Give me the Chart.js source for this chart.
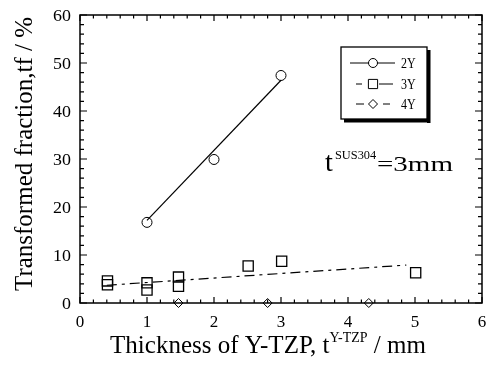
<!DOCTYPE html>
<html>
<head>
<meta charset="utf-8">
<script src="https://cdn.jsdelivr.net/npm/chart.js@4.4.0/dist/chart.umd.min.js"></script>
<style>
html, body { margin: 0; padding: 0; background: #fff; }
canvas { display: block; }
</style>
</head>
<body>
<canvas id="tfChart" width="486" height="367"></canvas>
<script>
const ctx = document.getElementById('tfChart').getContext('2d');

// tick labels
const xTicks = [0, 1, 2, 3, 4, 5, 6];
const yTicks = [0, 10, 20, 30, 40, 50, 60];

// 2Y
const thick2Y = [1, 2, 3];
const tf2Y = [16.8, 29.9, 47.4];
const fitX2Y = [1, 3];
const fitY2Y = [17.2, 46.4];

// 3Y
const thick3Y = [0.41, 0.41, 1, 1, 1.47, 1.47, 2.51, 3.01, 5.01];
const tf3Y = [4.6, 3.8, 4.2, 2.7, 5.4, 3.5, 7.7, 8.7, 6.3];
const fitX3Y = [0.4, 4.87];
const fitY3Y = [3.7, 7.9];

// 4Y
const thick4Y = [1.47, 2.8, 4.31];
const tf4Y = [0, 0, 0];

const legendNames = ['2Y', '3Y', '4Y'];

const toPts = (xs, ys) => xs.map((x, i) => ({ x: x, y: ys[i] }));
const SERIF = '"Liberation Serif", "Times New Roman", serif';

function drawText(c, str, x, y, size, sx, align) {
    c.save();
    c.font = size + 'px ' + SERIF;
    const w = c.measureText(str).width * sx;
    let left = x;
    if (align === 'center') left = x - w / 2;
    if (align === 'right') left = x - w;
    c.translate(left, y);
    c.scale(sx, 1);
    c.textAlign = 'left';
    c.textBaseline = 'alphabetic';
    c.fillText(str, 0, 0);
    c.restore();
    return w;
}

// hidden scales should take no room at all
function zeroFit(scale) {
    if (scale.isHorizontal()) scale.height = 0; else scale.width = 0;
    scale.paddingLeft = scale.paddingRight = scale.paddingTop = scale.paddingBottom = 0;
}

const framePlugin = {
    id: 'frame',
    afterDraw(chart) {
        const c = chart.ctx;
        const a = chart.chartArea;
        const xs = chart.scales.x;
        const ys = chart.scales.y;
        c.save();
        c.strokeStyle = '#000';
        c.fillStyle = '#000';
        c.lineWidth = 1.5;
        c.strokeRect(a.left, a.top, a.right - a.left, a.bottom - a.top);

        // ticks, inward on all four sides
        c.lineWidth = 1.2;
        c.beginPath();
        for (let v = xs.min; v <= xs.max + 1e-9; v += 0.2) {
            const px = xs.getPixelForValue(v);
            const major = Math.abs(v - Math.round(v)) < 1e-6;
            const len = major ? 6 : 3.5;
            c.moveTo(px, a.bottom); c.lineTo(px, a.bottom - len);
            c.moveTo(px, a.top); c.lineTo(px, a.top + len);
        }
        for (let v = ys.min; v <= ys.max + 1e-9; v += 2) {
            const py = ys.getPixelForValue(v);
            const major = Math.abs(v / 10 - Math.round(v / 10)) < 1e-6;
            const len = major ? 7 : 4;
            c.moveTo(a.left, py); c.lineTo(a.left + len, py);
            c.moveTo(a.right, py); c.lineTo(a.right - len, py);
        }
        c.stroke();

        // tick labels
        xTicks.forEach(v => {
            drawText(c, String(v), xs.getPixelForValue(v), 327, 17, 1.0, 'center');
        });
        yTicks.forEach(v => {
            drawText(c, String(v), 71, ys.getPixelForValue(v) + 5.5, 16, 1.12, 'right');
        });

        // x axis title with superscript
        const parts = [
            { t: 'Thickness of Y-TZP, t', s: 25, dy: 0 },
            { t: 'Y-TZP', s: 14, dy: -11 },
            { t: ' / mm', s: 25, dy: 0 }
        ];
        let total = 0;
        parts.forEach(p => { c.font = p.s + 'px ' + SERIF; p.w = c.measureText(p.t).width; total += p.w; });
        let x0 = 268 - total / 2;
        parts.forEach(p => { drawText(c, p.t, x0, 353 + p.dy, p.s, 1, 'left'); x0 += p.w; });

        // y axis title
        c.save();
        c.translate(32, 154);
        c.rotate(-Math.PI / 2);
        c.font = '25px ' + SERIF;
        c.textAlign = 'center';
        c.textBaseline = 'alphabetic';
        c.fillText('Transformed fraction,tf / %', 0, 0);
        c.restore();

        // annotation
        drawText(c, 't', 325, 171, 27, 1.05, 'left');
        drawText(c, 'SUS304', 335, 159, 13, 0.95, 'left');
        c.font = '22px ' + SERIF;
        const nat = c.measureText('=3mm').width;
        drawText(c, '=3mm', 377, 171, 22, 76 / nat, 'left');

        // legend box with shadow
        c.fillRect(427, 50, 3.5, 73);
        c.fillRect(344, 119, 86, 3.5);
        c.fillStyle = '#fff';
        c.fillRect(341, 47, 86, 72);
        c.fillStyle = '#000';
        c.lineWidth = 1.3;
        c.strokeRect(341, 47, 86, 72);

        const rows = [63, 84, 104];
        c.lineWidth = 1;
        c.beginPath();
        c.moveTo(350, rows[0]); c.lineTo(395, rows[0]);
        c.moveTo(356, rows[1]); c.lineTo(362, rows[1]);
        c.moveTo(379, rows[1]); c.lineTo(393, rows[1]);
        c.moveTo(356, rows[2]); c.lineTo(364, rows[2]);
        c.moveTo(383, rows[2]); c.lineTo(390, rows[2]);
        c.stroke();
        const styles = [
            { pointStyle: 'circle', radius: 4.5, rotation: 0, borderWidth: 1 },
            { pointStyle: 'rect', radius: 6.5, rotation: 0, borderWidth: 1.2 },
            { pointStyle: 'rectRot', radius: 4.5, rotation: 0, borderWidth: 1 }
        ];
        c.fillStyle = '#fff';
        c.strokeStyle = '#000';
        styles.forEach((st, i) => Chart.helpers.drawPoint(c, st, 373, rows[i]));
        c.fillStyle = '#000';
        legendNames.forEach((n, i) => drawText(c, n, 401, rows[i] + 5, 15, 0.8, 'left'));
        c.restore();
    }
};

new Chart(ctx, {
    type: 'scatter',
    data: {
        datasets: [
            {
                label: '2Y',
                data: toPts(thick2Y, tf2Y),
                pointStyle: 'circle',
                pointRadius: 5,
                borderColor: '#000',
                backgroundColor: 'rgba(255,255,255,0)',
                borderWidth: 1,
                clip: false
            },
            {
                label: '2Y fit',
                data: toPts(fitX2Y, fitY2Y),
                showLine: true,
                pointRadius: 0,
                borderColor: '#000',
                borderWidth: 1.2
            },
            {
                label: '3Y',
                data: toPts(thick3Y, tf3Y),
                pointStyle: 'rect',
                pointRadius: 7.2,
                borderColor: '#000',
                backgroundColor: 'rgba(255,255,255,0)',
                borderWidth: 1.3,
                clip: false
            },
            {
                label: '3Y fit',
                data: toPts(fitX3Y, fitY3Y),
                showLine: true,
                pointRadius: 0,
                borderColor: '#000',
                borderWidth: 1.2,
                borderDash: [10, 5, 3, 5]
            },
            {
                label: '4Y',
                data: toPts(thick4Y, tf4Y),
                pointStyle: 'rectRot',
                pointRadius: 4.5,
                borderColor: '#000',
                backgroundColor: '#fff',
                borderWidth: 1,
                clip: false
            }
        ]
    },
    options: {
        responsive: false,
        animation: false,
        layout: { autoPadding: false, padding: { left: 80, right: 4, top: 15, bottom: 64 } },
        scales: {
            x: {
                type: 'linear',
                min: 0,
                max: 6,
                ticks: { display: false, stepSize: 1 },
                grid: { display: false },
                border: { display: false },
                afterFit: zeroFit
            },
            y: {
                type: 'linear',
                min: 0,
                max: 60,
                ticks: { display: false, stepSize: 10 },
                grid: { display: false },
                border: { display: false },
                afterFit: zeroFit
            }
        },
        plugins: {
            legend: { display: false },
            tooltip: { enabled: false }
        }
    },
    plugins: [framePlugin]
});
</script>
</body>
</html>
